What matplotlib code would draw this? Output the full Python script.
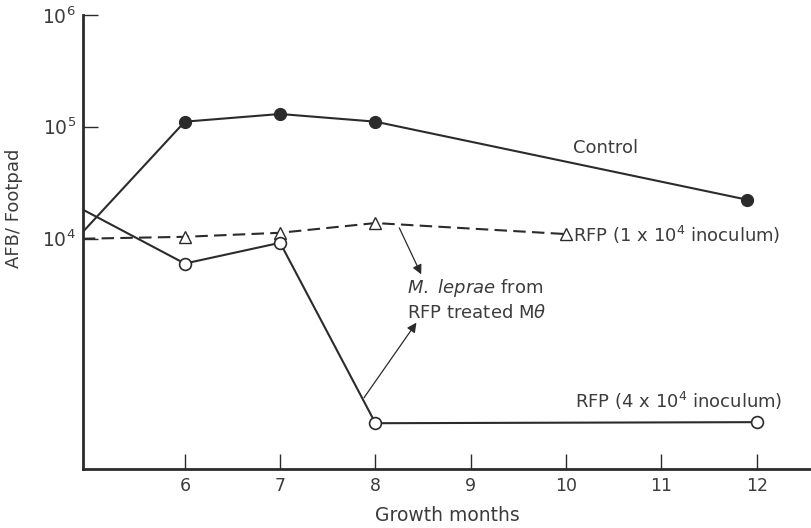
import matplotlib
matplotlib.use('Agg')
import matplotlib.pyplot as plt
from matplotlib.ticker import FixedLocator, NullLocator

# growth months and AFB counts
control_x = [4.93, 6, 7, 8, 11.9]
control_y = [1.15e4, 1.11e5, 1.3e5, 1.11e5, 2.23e4]

rfp1_x = [4.93, 6, 7, 8, 10]
rfp1_y = [1.0e4, 1.04e4, 1.13e4, 1.38e4, 1.1e4]

rfp4_x = [4.93, 6, 7, 8, 12]
rfp4_y = [1.82e4, 6.0e3, 9.2e3, 225, 230]

x_ticks = [6, 7, 8, 9, 10, 11, 12]
x_labels = ['6', '7', '8', '9', '10', '11', '12']
y_ticks = [1e4, 1e5, 1e6]
y_labels = ['$10^4$', '$10^5$', '$10^6$']

line_c = '#2b2b2b'
text_c = '#3c3c3c'


def main():
    plt.rcParams['font.family'] = ['DejaVu Sans']
    plt.rcParams['mathtext.fontset'] = 'dejavusans'
    plt.rcParams['mathtext.default'] = 'regular'

    fig = plt.figure(figsize=(8.12, 5.28), dpi=100)
    ax = fig.add_axes([0.102, 0.112, 0.898, 0.86])

    ax.plot(control_x, control_y, '-', color=line_c, lw=1.5,
            marker='o', ms=8.5, mfc=line_c, mec=line_c, markevery=[1, 2, 3, 4])
    ax.plot(rfp1_x, rfp1_y, '-', color=line_c, lw=1.5, dashes=(6, 3),
            marker='^', ms=8, mfc='white', mec=line_c, mew=1.0,
            markevery=[1, 2, 3, 4])
    ax.plot(rfp4_x, rfp4_y, '-', color=line_c, lw=1.5,
            marker='o', ms=8.5, mfc='white', mec=line_c, mew=1.2,
            markevery=[1, 2, 3, 4])

    ax.set_yscale('log')
    ax.set_xlim(4.93, 12.58)
    ax.set_ylim(88, 1e6)

    ax.xaxis.set_major_locator(FixedLocator(x_ticks))
    ax.set_xticklabels(x_labels)
    ax.yaxis.set_major_locator(FixedLocator(y_ticks))
    ax.yaxis.set_minor_locator(NullLocator())
    ax.set_yticklabels(y_labels)
    ax.tick_params(axis='x', direction='in', length=11, width=1.0,
                   color=line_c, labelsize=12.5, labelcolor=text_c, pad=6)
    ax.tick_params(axis='y', direction='in', length=11, width=1.0,
                   color=line_c, labelsize=13.5, labelcolor=text_c, pad=5)

    for side in ('top', 'right'):
        ax.spines[side].set_visible(False)
    for side in ('left', 'bottom'):
        ax.spines[side].set_linewidth(2.0)
        ax.spines[side].set_color(line_c)

    ax.set_xlabel('Growth months', fontsize=13.5, color=text_c, labelpad=8)
    fig.text(0.017, 0.606, 'AFB/ Footpad', rotation=90, fontsize=13,
             color=text_c, ha='center', va='center')

    ax.text(10.07, 6.5e4, 'Control', fontsize=13, color=text_c,
            ha='left', va='center')
    ax.text(10.07, 1.08e4, 'RFP (1 x 10$^4$ inoculum)', fontsize=13,
            color=text_c, ha='left', va='center')
    ax.text(10.09, 355, 'RFP (4 x 10$^4$ inoculum)', fontsize=13,
            color=text_c, ha='left', va='center')
    ax.text(8.33, 3650, r'$\mathit{M.\ leprae}$ from', fontsize=13,
            color=text_c, ha='left', va='center')
    ax.text(8.33, 2180, r'RFP treated M$\mathit{\theta}$', fontsize=13,
            color=text_c, ha='left', va='center')

    arrow = dict(arrowstyle='-|>', color=line_c, lw=0.9,
                 mutation_scale=14, shrinkA=0, shrinkB=0)
    ax.annotate('', xy=(8.48, 4.8e3), xytext=(8.25, 1.25e4), arrowprops=arrow)
    ax.annotate('', xy=(8.43, 1780), xytext=(7.88, 380), arrowprops=arrow)

    fig.savefig('out.png', dpi=100, facecolor='white')


if __name__ == '__main__':
    main()
